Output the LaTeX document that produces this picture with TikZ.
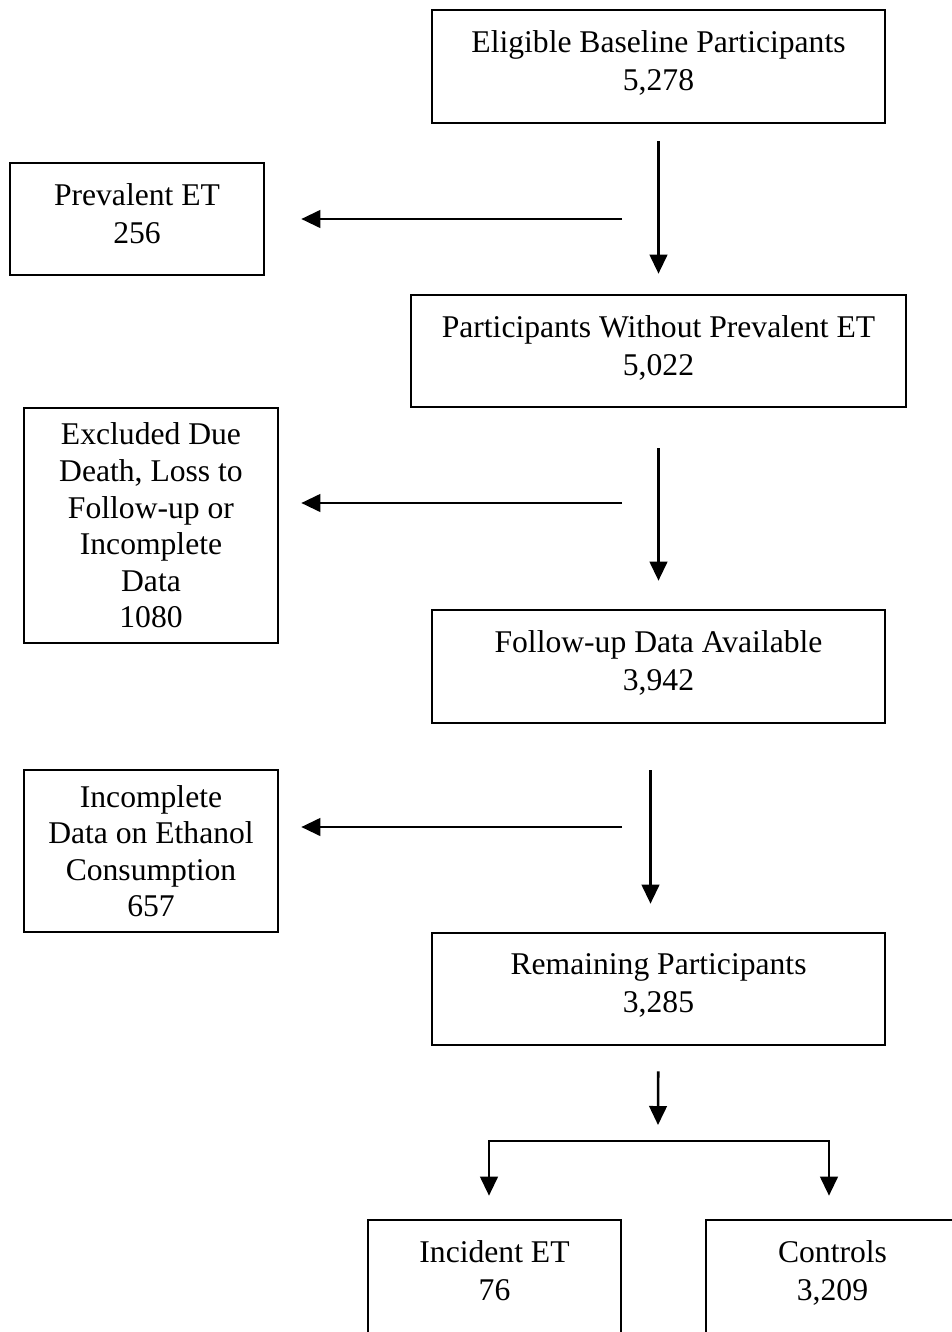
\documentclass[tikz,border=0pt]{standalone}
\usepackage{fontspec}
\setmainfont{Liberation Serif}
\usetikzlibrary{arrows.meta}

\begin{document}
\begin{tikzpicture}[x=0.02cm,y=-0.02cm,line width=1.5pt,
          >={Triangle[length=0.38cm,width=0.35cm]},
          box/.style={draw,align=center,inner sep=0pt,font=\fontsize{18}{20.8}\selectfont,
            execute at begin node={\rule{0pt}{0.67cm}}},
          pair/.style={box,font=\fontsize{18}{21.6}\selectfont,
            execute at begin node=\strut,execute at end node={\rule[-0.22cm]{0pt}{0.1pt}}}]
          \useasboundingbox (0,0) rectangle (952,1332);
          \clip (0,0) rectangle (952,1332);
          \node[pair,minimum width=9.06cm,minimum height=2.26cm] (E) at (658.5,66.5) {Eligible Baseline Participants\\5,278};
          \node[pair,minimum width=5.08cm,minimum height=2.24cm] (PE) at (137,219) {Prevalent ET\\256};
          \node[pair,minimum width=9.9cm,minimum height=2.24cm] (P) at (658.5,351) {Participants Without Prevalent ET\\5,022};
          \node[box,minimum width=5.08cm,minimum height=4.7cm] (X) at (151,525.5) {Excluded Due\\Death, Loss to\\Follow-up or\\Incomplete\\Data\\1080};
          \node[pair,minimum width=9.06cm,minimum height=2.26cm] (F) at (658.5,666.5) {Follow-up Data Available\\3,942};
          \node[box,minimum width=5.08cm,minimum height=3.24cm] (I) at (151,851) {Incomplete\\Data on Ethanol\\Consumption\\657};
          \node[pair,minimum width=9.06cm,minimum height=2.24cm] (R) at (658.5,989) {Remaining Participants\\3,285};
          \node[pair,minimum width=5.06cm,minimum height=2.26cm] (IE) at (494.5,1276.5) {Incident ET\\76};
          \node[pair,minimum width=5.06cm,minimum height=2.26cm] (C) at (832.5,1276.5) {Controls\\3,209};
          \coordinate (s1) at (622,219);
          \coordinate (s2) at (622,503);
          \coordinate (s3) at (622,827);
          \coordinate (T) at (658,1125);
          \coordinate (B) at (658,1141);
          \draw[->,shorten <=0.34cm,shorten >=0.4cm] (E) to (P);
          \draw[->,shorten >=0.72cm] (s1) to (s1 -| PE.east);
          \draw[->,shorten <=0.8cm,shorten >=0.56cm] (P) to (F);
          \draw[->,shorten >=0.44cm] (s2) to (s2 -| X.east);
          \draw[->,shorten <=0.92cm,shorten >=0.56cm] ([xshift=-0.16cm]F.south) to ([xshift=-0.16cm]R.north);
          \draw[->,shorten >=0.44cm] (s3) to (s3 -| I.east);
          \draw[->,shorten <=0.5cm] (R) to (T);
          \draw[->,shorten >=0.46cm] (B) -| ([xshift=-0.11cm]IE.north);
          \draw[->,shorten >=0.46cm] (B) -| ([xshift=-0.07cm]C.north);
        \end{tikzpicture}
\end{document}
